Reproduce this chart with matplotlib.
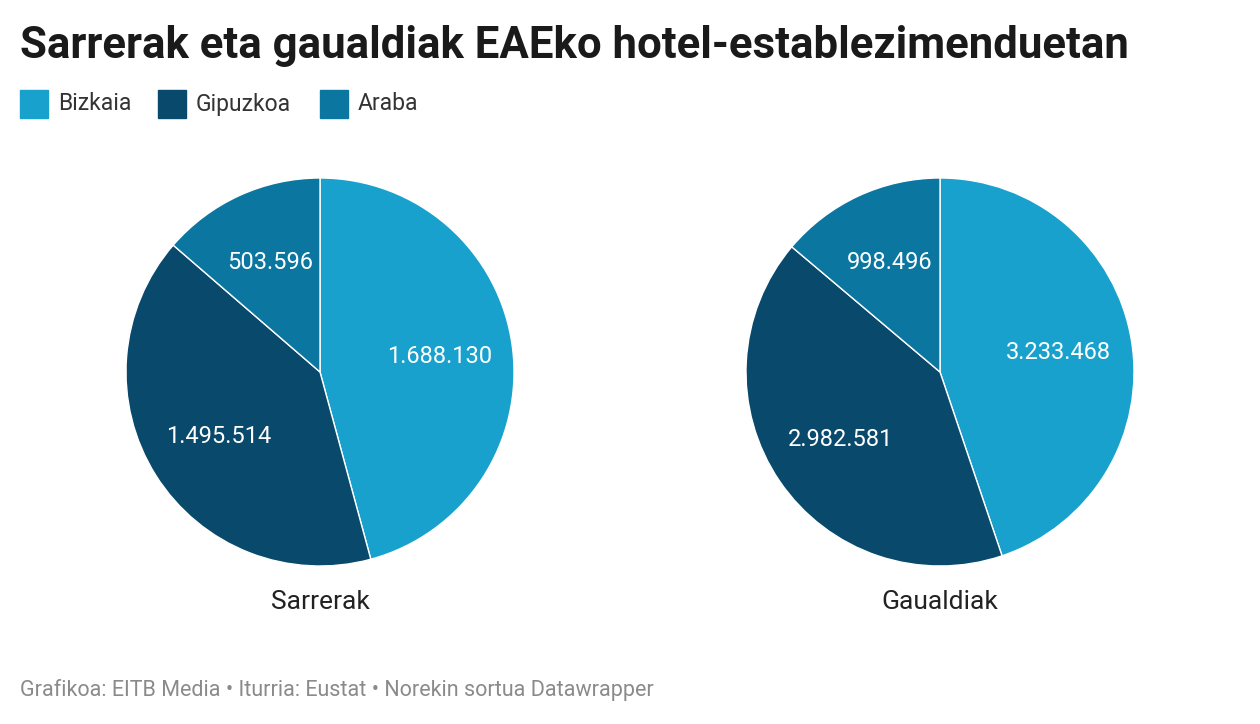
import matplotlib
matplotlib.use("Agg")
import matplotlib.pyplot as plt

plt.rcParams["font.family"] = "Roboto"

herrialdeak = ["Bizkaia", "Gipuzkoa", "Araba"]
sarrerak = [1688130, 1495514, 503596]
gaualdiak = [3233468, 2982581, 998496]
koloreak = ["#18a1cd", "#09496c", "#0b76a0"]

W, H = 1260, 724
fig = plt.figure(figsize=(W / 100, H / 100), dpi=100)
fig.patch.set_facecolor("white")


def formatua(v):
    return f"{v:,}".replace(",", ".")


def tarta(cx, cy, r, balioak, izena):
    ax = fig.add_axes([(cx - r) / W, (H - cy - r) / H, 2 * r / W, 2 * r / H])
    guztira = sum(balioak)
    ax.pie(balioak, colors=koloreak, startangle=90, counterclock=False,
           wedgeprops=dict(edgecolor="white", linewidth=1),
           autopct=lambda p: formatua(round(p * guztira / 100)),
           pctdistance=0.62, textprops=dict(color="white", fontsize=17))
    ax.set_xlim(-1, 1)
    ax.set_ylim(-1, 1)
    ax.set_aspect("equal")
    fig.text(cx / W, 1 - 602 / H, izena, ha="center", va="center", fontsize=19, color="#222")


tarta(320, 372, 194, sarrerak, "Sarrerak")
tarta(940, 372, 194, gaualdiak, "Gaualdiak")

fig.text(20 / W, 1 - 46 / H, "Sarrerak eta gaualdiak EAEko hotel-establezimenduetan",
         fontsize=31.5, fontweight="bold", va="center", ha="left", color="#1a1a1a")

# legenda
x = 20
for izena, kol in zip(herrialdeak, koloreak):
    fig.patches.append(plt.Rectangle((x / W, 1 - 118 / H), 28 / W, 28 / H,
                                     transform=fig.transFigure, color=kol))
    fig.text((x + 38) / W, 1 - 104 / H, izena, fontsize=16.5, va="center", color="#333")
    x += 38 + {"Bizkaia": 100, "Gipuzkoa": 124, "Araba": 80}[izena]

fig.text(20 / W, 1 - 690 / H,
         "Grafikoa: EITB Media • Iturria: Eustat • Norekin sortua Datawrapper",
         fontsize=15.5, color="#8a8a8a", va="center")

fig.savefig("out.png", dpi=100)
